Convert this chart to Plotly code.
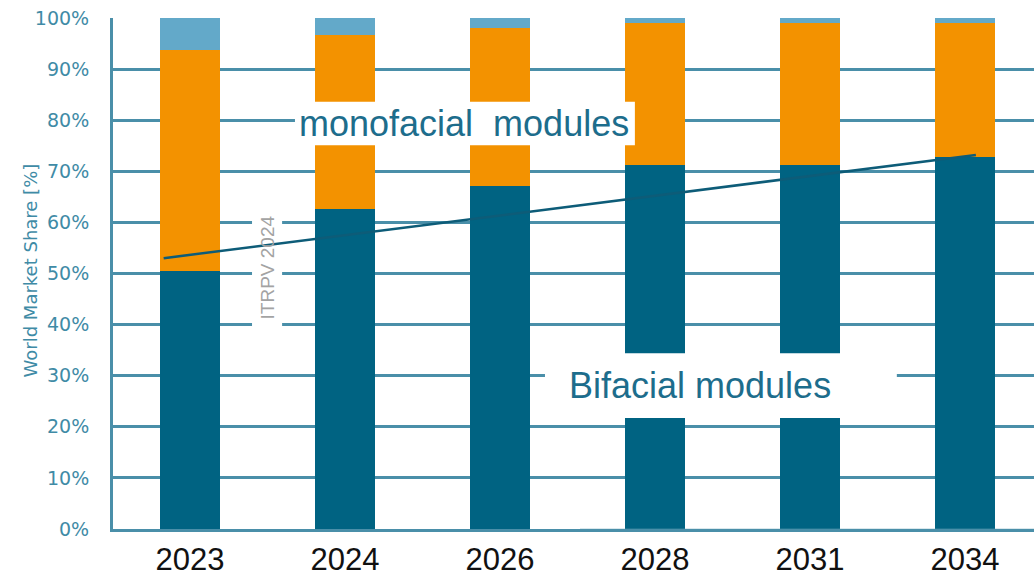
import plotly.graph_objects as go

# Market share of module types, world, %
years = ["2023", "2024", "2026", "2028", "2031", "2034"]
bifacial = [50.5, 62.6, 67.1, 71.2, 71.2, 72.8]
monofacial = [43.2, 34.1, 30.9, 27.8, 27.8, 26.2]
other = [6.3, 3.3, 2.0, 1.0, 1.0, 1.0]

# ITRPV 2024 trend line (x in category index units)
trend_x = [-0.17, 5.07]
trend_y = [53.0, 73.2]

y_ticks = [0, 10, 20, 30, 40, 50, 60, 70, 80, 90, 100]

DARK = "#006382"
ORANGE = "#f39200"
LIGHT = "#63a9c9"
GRID = "#4a8fa9"
TEXT_TEAL = "#1d6d8c"

pos = list(range(len(years)))

fig = go.Figure()
for vals, col in [(bifacial, DARK), (monofacial, ORANGE), (other, LIGHT)]:
    fig.add_trace(go.Bar(x=pos, y=vals, marker=dict(color=col, line=dict(width=0)),
                         width=0.387, showlegend=False, hoverinfo="skip"))

fig.add_trace(go.Scatter(x=trend_x, y=trend_y, mode="lines",
                         line=dict(color="#0d5c78", width=2.5),
                         showlegend=False, hoverinfo="skip"))

shapes = [
    # white backing behind the rotated source label (under the bars/line)
    dict(type="rect", xref="x", yref="y", x0=0.40, x1=0.594, y0=38.0, y1=65.4,
         fillcolor="white", line=dict(width=0), layer="between"),
    # white boxes behind the two series labels
    dict(type="rect", xref="x", yref="y", x0=0.677, x1=2.87, y0=75.1, y1=83.6,
         fillcolor="white", line=dict(width=0), layer="above"),
    dict(type="rect", xref="x", yref="y", x0=2.29, x1=4.56, y0=21.7, y1=34.4,
         fillcolor="white", line=dict(width=0), layer="above"),
    # lighter baseline segment on the right
    dict(type="line", xref="x", yref="y", x0=2.516, x1=5.445, y0=-0.35, y1=-0.35,
         line=dict(color="#6aa3b8", width=4), layer="above"),
]

annotations = [
    dict(text="monofacial  modules", x=1.77, y=79.3, xref="x", yref="y",
         showarrow=False, font=dict(family="Liberation Sans, Arial", size=36, color=TEXT_TEAL)),
    dict(text="Bifacial modules", x=3.29, y=28.1, xref="x", yref="y",
         showarrow=False, font=dict(family="Liberation Sans, Arial", size=36, color=TEXT_TEAL)),
    dict(text="ITRPV 2024", x=0.497, y=51.2, xref="x", yref="y", textangle=-90,
         showarrow=False, font=dict(family="Liberation Sans, Arial", size=19, color="#a3a3a3")),
    dict(text="World Market Share [%]", x=0, y=50.5, xref="paper", yref="y", xshift=-95,
         textangle=-90, showarrow=False,
         font=dict(family="DejaVu Sans, Arial", size=18, color="#3f8ba6")),
]

fig.update_layout(
    barmode="stack",
    width=1034, height=578,
    margin=dict(l=113, r=0, t=18, b=49, autoexpand=False),
    paper_bgcolor="white", plot_bgcolor="white",
    shapes=shapes, annotations=annotations,
    xaxis=dict(range=[-0.497, 5.445], tickmode="array", tickvals=pos, ticktext=years,
               showgrid=False, zeroline=False, showline=True, linecolor=GRID, linewidth=3,
               tickfont=dict(family="Liberation Sans, Arial", size=31, color="#111111"),
               ticks="", ticklabelstandoff=1, automargin=False),
    yaxis=dict(range=[0, 100], tickmode="array", tickvals=y_ticks,
               ticktext=[f"{v}%" for v in y_ticks],
               showgrid=True, gridcolor=GRID, gridwidth=3, zeroline=False,
               showline=True, linecolor=GRID, linewidth=3,
               tickfont=dict(family="DejaVu Sans, Arial", size=19, color="#3f8ba6"),
               ticks="", ticklabelstandoff=17, automargin=False),
)

fig.write_html("out.html")
